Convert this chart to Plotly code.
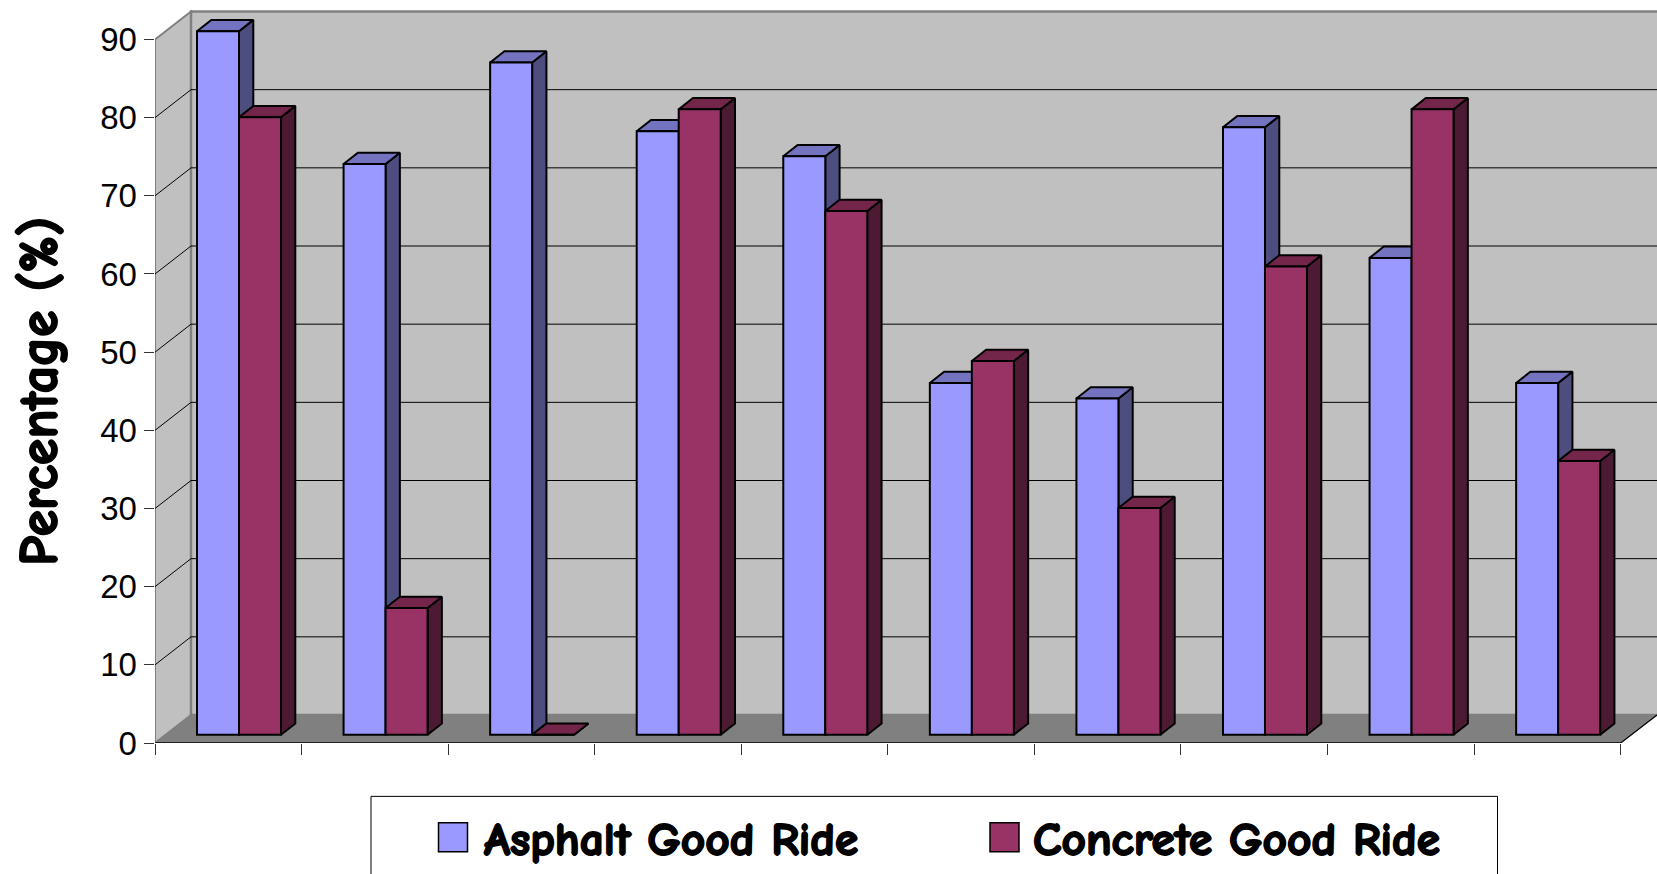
import plotly.graph_objects as go

# Data
group_index = [0, 1, 2, 3, 4, 5, 6, 7, 8, 9]
asphalt_good_ride = [90, 73, 86, 77.2, 74, 45, 43, 77.7, 61, 45]
concrete_good_ride = [79, 16.2, 0, 80, 67, 47.8, 29, 59.9, 80, 35]
y_ticks = [0, 10, 20, 30, 40, 50, 60, 70, 80, 90]
x_ticks = [0, 1, 2, 3, 4, 5, 6, 7, 8, 9, 10]
series_names = ["Asphalt Good Ride", "Concrete Good Ride"]
axis_title = "Percentage (%)"

W, H = 1657, 874
PLOT_L, PLOT_B_PX = 155, 743.3
PX_PER_CAT = 146.57
PX_PER_UNIT = 7.82
X_MAX = (W - PLOT_L) / PX_PER_CAT
Y_MAX = PLOT_B_PX / PX_PER_UNIT

WALL_DX = 36 / PX_PER_CAT
WALL_DY = 28 / PX_PER_UNIT
BAR_DX = 14.3 / PX_PER_CAT
BAR_DY = 11.3 / PX_PER_UNIT
BAR_BASE = 8.3 / PX_PER_UNIT
BAR_W = 42.0 / PX_PER_CAT
BAR_START = 42.0 / PX_PER_CAT
X_END = 10

HUMAN_FONT = "Comic Sans MS, Comic Neue, Open Sans, sans-serif"
HEAVY = "1px 0 0 #000, -1px 0 0 #000, 0 1px 0 #000, 0 -1px 0 #000"
WALL = "#C0C0C0"
WALL_EDGE = "#808080"
FLOOR = "#808080"


def px(x):
    return (x - PLOT_L) / (W - PLOT_L)


def py(y):
    return (PLOT_B_PX - y) / PLOT_B_PX


def poly(points):
    return "M" + " L".join(f"{a},{b}" for a, b in points) + " Z"


shapes = [
    dict(type="path", xref="x", yref="y", layer="below", fillcolor=WALL,
         line=dict(color=WALL_EDGE, width=2),
         path=poly([(0, 0), (WALL_DX, WALL_DY), (WALL_DX, 90 + WALL_DY), (0, 90)])),
    dict(type="path", xref="x", yref="y", layer="below", fillcolor=WALL,
         line=dict(color=WALL_EDGE, width=2.5),
         path=poly([(WALL_DX, WALL_DY), (X_MAX + 1, WALL_DY), (X_MAX + 1, 90 + WALL_DY), (WALL_DX, 90 + WALL_DY)])),
    dict(type="path", xref="x", yref="y", layer="below", fillcolor=FLOOR,
         line=dict(color=FLOOR, width=1),
         path=poly([(0, 0), (WALL_DX, WALL_DY), (X_MAX, WALL_DY), (X_END, 0)])),
    dict(type="line", xref="x", yref="y", layer="below", x0=0, x1=X_END, y0=0, y1=0,
         line=dict(color="#000000", width=1.5)),
    dict(type="line", xref="x", yref="y", layer="below", x0=X_END, x1=X_MAX, y0=0, y1=WALL_DY,
         line=dict(color="#000000", width=1.2)),
    # legend frame and swatches
    dict(type="rect", xref="paper", yref="paper", x0=px(371), x1=px(1497.5), y0=py(890), y1=py(796.7),
         line=dict(color="#000000", width=1), fillcolor="#FFFFFF"),
    dict(type="rect", xref="paper", yref="paper", x0=px(438.5), x1=px(467.5), y0=py(852), y1=py(823),
         line=dict(color="#000000", width=1.5), fillcolor="#9999FF"),
    dict(type="rect", xref="paper", yref="paper", x0=px(990), x1=px(1019), y0=py(852), y1=py(823),
         line=dict(color="#000000", width=1.5), fillcolor="#993366"),
]

fig = go.Figure()

# gridlines: side wall and back wall
grid_x, grid_y = [], []
for v in y_ticks[1:-1]:
    grid_x += [0, WALL_DX, X_MAX + 1, None]
    grid_y += [v, v + WALL_DY, v + WALL_DY, None]
fig.add_trace(go.Scatter(x=grid_x, y=grid_y, mode="lines", line=dict(color="#000000", width=1),
                         hoverinfo="skip", showlegend=False, zorder=0))


def add_series(name, values, start, front, side, top, z):
    sx, sy, tx, ty, cx = [], [], [], [], []
    for i, v in zip(group_index, values):
        xl = i + start
        xr = xl + BAR_W
        t = BAR_BASE + v
        sx += [xr, xr, xr + BAR_DX, xr + BAR_DX, xr, None]
        sy += [BAR_BASE, t, t + BAR_DY, BAR_BASE + BAR_DY, BAR_BASE, None]
        tx += [xl, xr, xr + BAR_DX, xl + BAR_DX, xl, None]
        ty += [t, t, t + BAR_DY, t + BAR_DY, t, None]
        cx.append(xl + BAR_W / 2)
    edge = dict(color="#000000", width=2)
    fig.add_trace(go.Scatter(x=sx, y=sy, mode="lines", fill="toself", fillcolor=side, line=edge,
                             hoverinfo="skip", showlegend=False, zorder=z))
    fig.add_trace(go.Scatter(x=tx, y=ty, mode="lines", fill="toself", fillcolor=top, line=edge,
                             hoverinfo="skip", showlegend=False, zorder=z))
    fig.add_trace(go.Bar(x=cx, y=values, base=BAR_BASE, width=BAR_W, name=name, marker=dict(color=front, line=edge),
                         showlegend=False, zorder=z + 1))


add_series(series_names[0], asphalt_good_ride, BAR_START, "#9999FF", "#4D4D80", "#7373BF", 1)
add_series(series_names[1], concrete_good_ride, BAR_START + BAR_W, "#993366", "#4D1A33", "#732649", 3)

annotations = [
    dict(text=f"<b>{axis_title}</b>", xref="paper", yref="paper", x=px(40), y=py(392), textangle=-90,
         showarrow=False, xanchor="center", yanchor="middle",
         font=dict(family=HUMAN_FONT, size=53.5, color="#000000", shadow=HEAVY)),
    dict(text=f"<b>{series_names[0]}</b>", xref="paper", yref="paper", x=px(482), y=py(840),
         showarrow=False, xanchor="left", yanchor="middle",
         font=dict(family=HUMAN_FONT, size=47.3, color="#000000", shadow=HEAVY)),
    dict(text=f"<b>{series_names[1]}</b>", xref="paper", yref="paper", x=px(1031), y=py(840),
         showarrow=False, xanchor="left", yanchor="middle",
         font=dict(family=HUMAN_FONT, size=47.3, color="#000000", shadow=HEAVY)),
]

fig.update_layout(
    width=W, height=H,
    margin=dict(l=PLOT_L, r=0, t=0, b=H - PLOT_B_PX, pad=0),
    paper_bgcolor="#FFFFFF", plot_bgcolor="#FFFFFF",
    barmode="overlay", showlegend=False,
    shapes=shapes, annotations=annotations,
    xaxis=dict(range=[0, X_MAX], tickvals=x_ticks, showticklabels=False, ticks="outside", ticklen=10.5,
               tickwidth=1, tickcolor="#333333", showgrid=False, zeroline=False, showline=False),
    yaxis=dict(range=[0, Y_MAX], tickvals=y_ticks, ticks="outside", ticklen=10.5, tickwidth=1,
               tickcolor="#333333", showgrid=False, zeroline=False, showline=False,
               tickfont=dict(family="Liberation Sans, Arial, sans-serif", size=33, color="#000000")),
)
fig.write_html("out.html", config=dict(displayModeBar=False),
               post_script="document.body.style.margin='0';document.documentElement.style.overflow='hidden';")
